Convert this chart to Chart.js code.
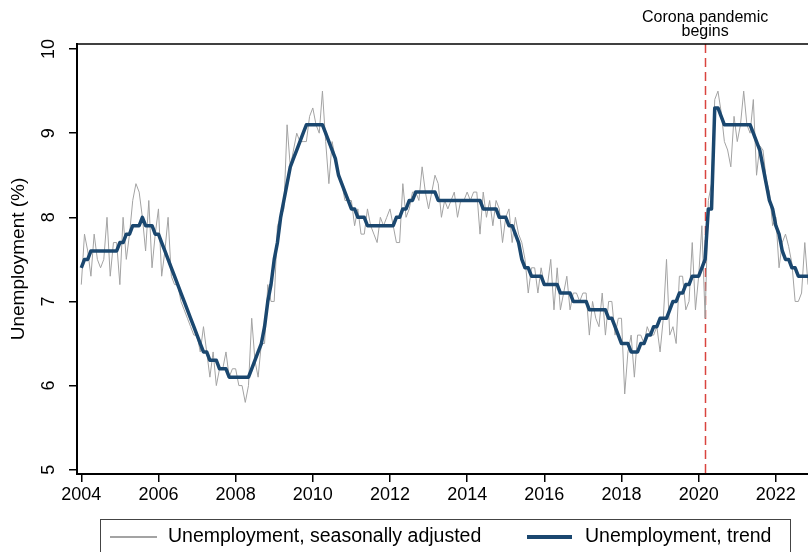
<!DOCTYPE html>
<html>
<head>
<meta charset="utf-8">
<script src="https://cdn.jsdelivr.net/npm/chart.js@4.4.1/dist/chart.umd.min.js"></script>
<style>
  html, body { margin: 0; padding: 0; background: #fff; }
  canvas { display: block; }
</style>
</head>
<body>
<canvas id="myCanvas" width="808" height="552"></canvas>
<script>
// monthly series, Jan 2004 - Nov 2022
const startYear = 2004;

const seasonallyAdjusted = [
  7.2, 7.8, 7.6, 7.3, 7.8, 7.5, 7.4, 7.5, 8.0, 7.3, 7.7, 7.7, // 2004
  7.2, 8.0, 7.5, 7.8, 8.2, 8.4, 8.3, 8.0, 7.6, 8.2, 7.4, 7.8, // 2005
  8.1, 7.3, 7.6, 8.0, 7.3, 7.2, 7.2, 7.0, 6.9, 6.8, 6.7, 6.6, // 2006
  6.6, 6.4, 6.7, 6.4, 6.1, 6.4, 6.0, 6.2, 6.2, 6.4, 6.1, 6.2, // 2007
  6.2, 6.0, 6.0, 5.8, 6.0, 6.8, 6.3, 6.1, 6.5, 6.5, 7.2, 7.0, // 2008
  7.0, 7.9, 8.0, 8.1, 9.1, 8.6, 8.8, 9.0, 8.9, 8.9, 8.9, 9.2, // 2009
  9.3, 9.1, 9.0, 9.5, 8.9, 8.4, 8.9, 8.7, 8.5, 8.4, 8.2, 8.2, // 2010
  8.2, 7.9, 8.1, 7.8, 7.8, 8.1, 7.9, 7.8, 7.7, 8.0, 7.9, 8.0, // 2011
  8.1, 7.9, 7.7, 7.7, 8.4, 8.0, 8.1, 8.3, 8.3, 8.2, 8.6, 8.3, // 2012
  8.1, 8.3, 8.5, 8.4, 8.0, 8.2, 8.1, 8.2, 8.3, 8.0, 8.2, 8.2, // 2013
  8.3, 8.2, 8.3, 8.3, 7.8, 8.3, 8.0, 8.2, 7.9, 8.2, 8.1, 7.7, // 2014
  8.0, 8.1, 7.7, 8.0, 7.8, 7.7, 7.5, 7.1, 7.4, 7.4, 7.1, 7.4, // 2015
  7.2, 7.2, 7.5, 6.9, 7.4, 6.9, 7.1, 7.3, 6.9, 7.1, 7.1, 7.0, // 2016
  7.1, 7.1, 6.6, 7.0, 6.8, 6.7, 7.1, 6.6, 7.0, 7.0, 6.6, 6.8, // 2017
  6.8, 5.9, 6.4, 6.6, 6.1, 6.6, 6.6, 6.5, 6.7, 6.6, 6.6, 6.7, // 2018
  6.4, 6.8, 7.5, 6.6, 6.7, 6.5, 7.3, 7.3, 6.9, 7.0, 7.7, 6.9, // 2019
  7.3, 7.9, 6.8, 8.2, 8.4, 9.4, 9.5, 9.25, 8.9, 8.8, 8.6, 9.2, // 2020
  8.9, 9.1, 9.5, 9.1, 9.0, 9.4, 8.5, 8.85, 8.8, 8.45, 8.3, 7.9, // 2021
  8.0, 7.4, 7.7, 7.8, 7.65, 7.45, 7.0, 7.0, 7.1, 7.7, 7.2 // 2022
];

const trend = [
  7.4, 7.5, 7.5, 7.6, 7.6, 7.6, 7.6, 7.6, 7.6, 7.6, 7.6, 7.6,
  7.7, 7.7, 7.8, 7.8, 7.9, 7.9, 7.9, 8.0, 7.9, 7.9, 7.9, 7.8,
  7.8, 7.7, 7.6, 7.5, 7.4, 7.3, 7.2, 7.1, 7.0, 6.9, 6.8, 6.7,
  6.6, 6.5, 6.4, 6.4, 6.3, 6.3, 6.3, 6.2, 6.2, 6.2, 6.1, 6.1,
  6.1, 6.1, 6.1, 6.1, 6.1, 6.2, 6.3, 6.4, 6.5, 6.7, 7.0, 7.2,
  7.5, 7.7, 8.0, 8.2, 8.4, 8.6, 8.7, 8.8, 8.9, 9.0, 9.1, 9.1,
  9.1, 9.1, 9.1, 9.1, 9.0, 8.9, 8.8, 8.7, 8.5, 8.4, 8.3, 8.2,
  8.1, 8.1, 8.0, 8.0, 8.0, 7.9, 7.9, 7.9, 7.9, 7.9, 7.9, 7.9,
  7.9, 7.9, 8.0, 8.0, 8.1, 8.1, 8.2, 8.2, 8.3, 8.3, 8.3, 8.3,
  8.3, 8.3, 8.3, 8.2, 8.2, 8.2, 8.2, 8.2, 8.2, 8.2, 8.2, 8.2,
  8.2, 8.2, 8.2, 8.2, 8.2, 8.1, 8.1, 8.1, 8.1, 8.1, 8.0, 8.0,
  8.0, 7.9, 7.9, 7.8, 7.7, 7.5, 7.4, 7.4, 7.3, 7.3, 7.3, 7.3,
  7.2, 7.2, 7.2, 7.2, 7.2, 7.1, 7.1, 7.1, 7.1, 7.0, 7.0, 7.0,
  7.0, 7.0, 6.9, 6.9, 6.9, 6.9, 6.9, 6.9, 6.8, 6.8, 6.7, 6.6,
  6.5, 6.5, 6.5, 6.4, 6.4, 6.4, 6.5, 6.5, 6.6, 6.6, 6.7, 6.7,
  6.8, 6.8, 6.8, 6.9, 7.0, 7.0, 7.1, 7.1, 7.2, 7.2, 7.3, 7.3,
  7.3, 7.4, 7.5, 8.1, 8.1, 9.3, 9.3, 9.2, 9.1, 9.1, 9.1, 9.1,
  9.1, 9.1, 9.1, 9.1, 9.1, 9.0, 8.9, 8.8, 8.6, 8.4, 8.2, 8.1,
  7.9, 7.8, 7.6, 7.5, 7.5, 7.4, 7.4, 7.3, 7.3, 7.3, 7.3
];

const xTickValues = [2004, 2006, 2008, 2010, 2012, 2014, 2016, 2018, 2020, 2022];
const yTickValues = [5, 6, 7, 8, 9, 10];
const pandemicStart = 2020 + 2 / 12; // March 2020
const annotation = ["Corona pandemic", "begins"];
const legendLabels = ["Unemployment, seasonally adjusted", "Unemployment, trend"];

const FONT = '"Liberation Sans", Arial, sans-serif';
const GRAY = "#a3a3a3";
const NAVY = "#1a476f";

const toPoints = (values) =>
  values.map((v, i) => ({ x: startYear + i / 12, y: v }));

const extras = {
  id: "extras",
  beforeDatasetsDraw(chart) {
    const { ctx, chartArea, scales } = chart;
    const px = Math.round(scales.x.getPixelForValue(pandemicStart)) + 0.5;
    ctx.save();
    ctx.strokeStyle = "#d9443f";
    ctx.lineWidth = 1.5;
    ctx.setLineDash([9, 5]);
    ctx.beginPath();
    ctx.moveTo(px, chartArea.top);
    ctx.lineTo(px, chartArea.bottom);
    ctx.stroke();
    ctx.restore();
  },
  afterDraw(chart) {
    const { ctx, chartArea, scales } = chart;
    ctx.save();

    // top frame line
    ctx.strokeStyle = "#000";
    ctx.lineWidth = 1.5;
    ctx.beginPath();
    ctx.moveTo(chartArea.left, chartArea.top);
    ctx.lineTo(chartArea.right, chartArea.top);
    ctx.stroke();

    // rotated y tick labels
    ctx.fillStyle = "#000";
    ctx.font = "18px " + FONT;
    ctx.textAlign = "center";
    ctx.textBaseline = "middle";
    scales.y.ticks.forEach((t) => {
      const py = scales.y.getPixelForValue(t.value);
      ctx.save();
      ctx.translate(49, py);
      ctx.rotate(-Math.PI / 2);
      ctx.fillText(String(t.value), 0, 0);
      ctx.restore();
    });

    // annotation above the dashed line
    const ax = scales.x.getPixelForValue(pandemicStart);
    ctx.font = "16px " + FONT;
    ctx.fillText(annotation[0], ax, 18);
    ctx.fillText(annotation[1], ax, 32);

    // legend box
    ctx.strokeStyle = "#444";
    ctx.lineWidth = 1;
    ctx.strokeRect(100.5, 519.5, 690, 40);

    ctx.lineWidth = 2;
    ctx.strokeStyle = GRAY;
    ctx.beginPath();
    ctx.moveTo(110, 537);
    ctx.lineTo(157, 537);
    ctx.stroke();

    ctx.lineWidth = 4;
    ctx.strokeStyle = NAVY;
    ctx.beginPath();
    ctx.moveTo(527, 537);
    ctx.lineTo(572, 537);
    ctx.stroke();

    ctx.font = "19.5px " + FONT;
    ctx.textAlign = "left";
    ctx.fillText(legendLabels[0], 168, 537);
    ctx.fillText(legendLabels[1], 585, 537);

    ctx.restore();
  },
};

new Chart(document.getElementById("myCanvas"), {
  type: "line",
  data: {
    datasets: [
      {
        label: legendLabels[0],
        data: toPoints(seasonallyAdjusted),
        borderColor: GRAY,
        borderWidth: 1,
        pointRadius: 0,
        tension: 0,
        order: 2,
      },
      {
        label: legendLabels[1],
        data: toPoints(trend),
        borderColor: NAVY,
        borderWidth: 3.5,
        borderJoinStyle: "round",
        pointRadius: 0,
        tension: 0,
        order: 1,
      },
    ],
  },
  options: {
    responsive: false,
    animation: false,
    devicePixelRatio: 1,
    layout: { padding: { top: 44, right: 0, left: 0, bottom: 0 } },
    plugins: {
      legend: { display: false },
      tooltip: { enabled: false },
    },
    scales: {
      x: {
        type: "linear",
        min: 2003.889,
        max: 2022 + 10 / 12,
        afterBuildTicks: (scale) => {
          scale.ticks = xTickValues.map((v) => ({ value: v }));
        },
        afterFit: (scale) => {
          scale.height = 78;
        },
        grid: {
          drawOnChartArea: false,
          drawTicks: true,
          tickLength: 8,
          color: "#000",
          lineWidth: 1.5,
        },
        border: { display: true, color: "#000", width: 2 },
        ticks: {
          color: "#000",
          font: { family: FONT, size: 18 },
          padding: 2,
          maxRotation: 0,
          autoSkip: false,
          callback: (v) => String(v),
        },
      },
      y: {
        min: 4.949,
        max: 10.06,
        afterBuildTicks: (scale) => {
          scale.ticks = yTickValues.map((v) => ({ value: v }));
        },
        afterFit: (scale) => {
          scale.width = 77;
        },
        grid: {
          drawOnChartArea: false,
          drawTicks: true,
          tickLength: 8,
          color: "#000",
          lineWidth: 1.5,
        },
        border: { display: true, color: "#000", width: 2 },
        ticks: { display: false },
        title: {
          display: true,
          text: "Unemployment (%)",
          color: "#000",
          font: { family: FONT, size: 19 },
          padding: { top: 7, bottom: 0 },
        },
      },
    },
  },
  plugins: [extras],
});
</script>
</body>
</html>
